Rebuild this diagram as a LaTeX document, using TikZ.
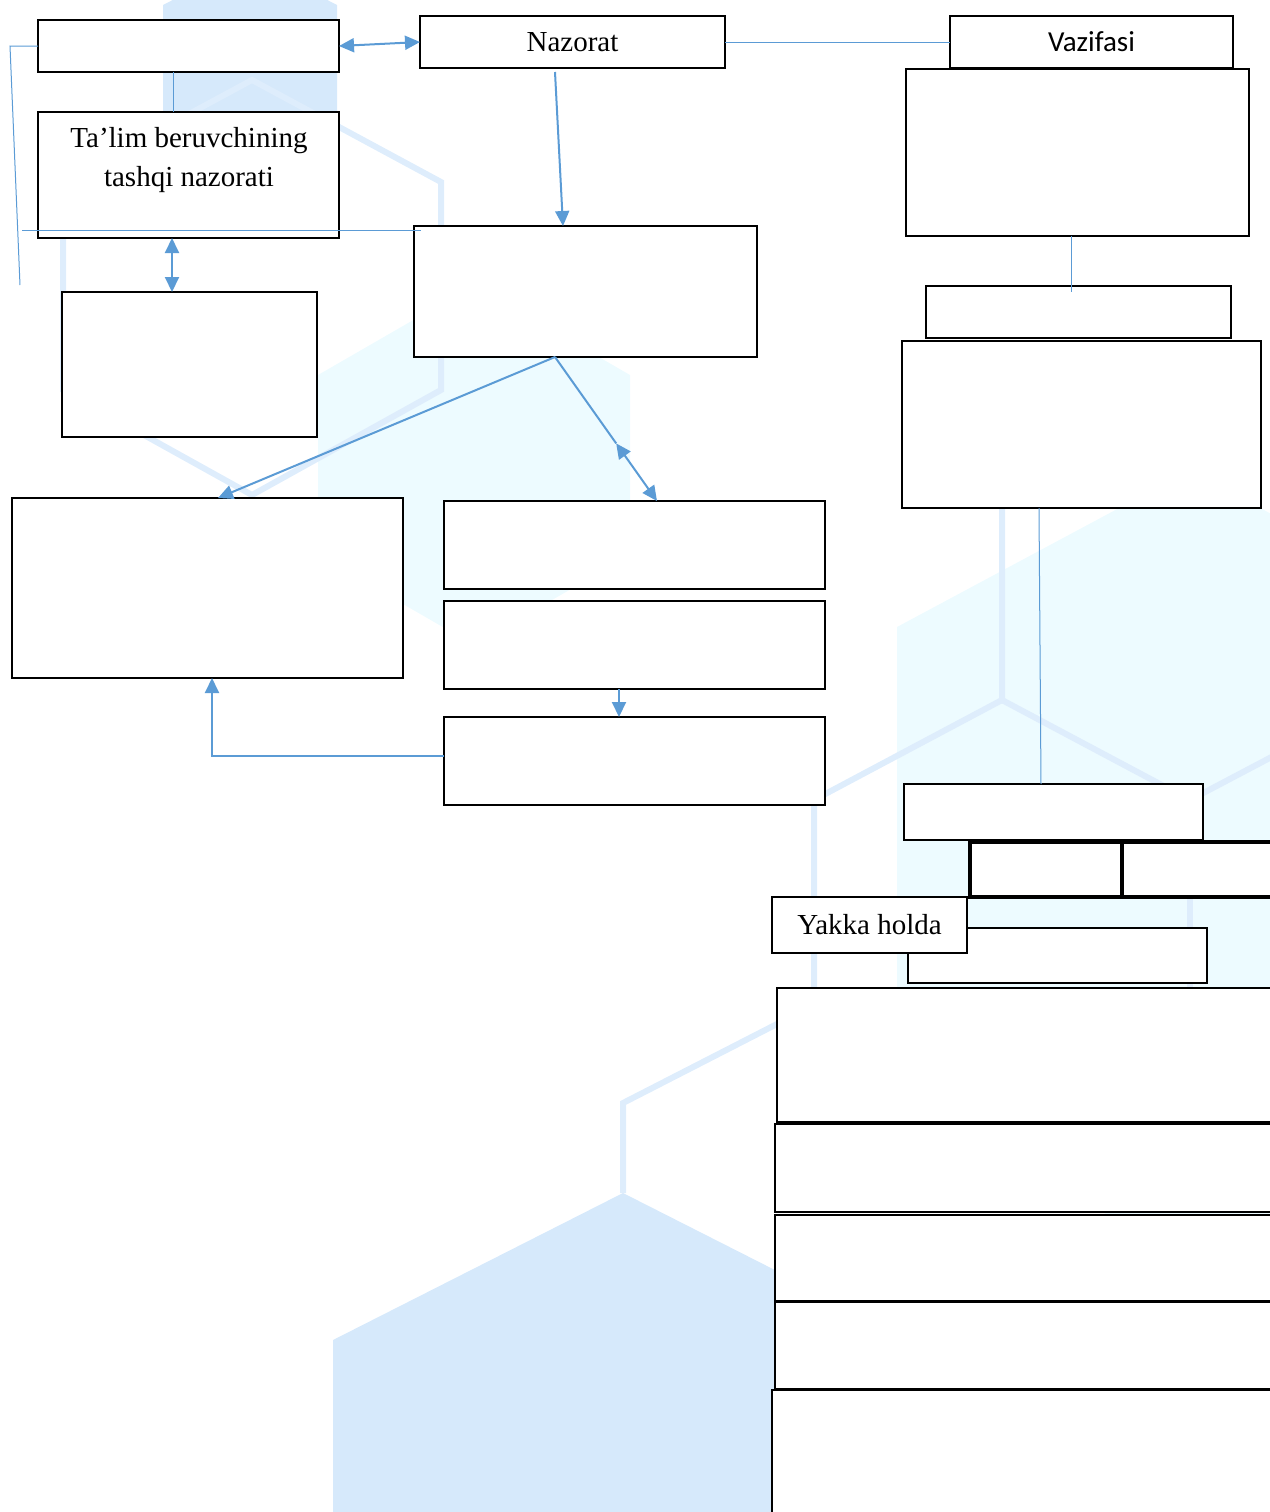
\documentclass[tikz,border=0pt]{standalone}
\usepackage{fontspec}
\setmainfont{Liberation Serif}
\newfontfamily\calfont{Carlito}
\usetikzlibrary{arrows.meta,calc}
\definecolor{linkblue}{RGB}{91,155,213}
\definecolor{hexfill}{RGB}{214,233,251}
\definecolor{hexcyan}{RGB}{237,251,255}
\definecolor{hexline}{RGB}{222,237,252}

\begin{document}
\begin{tikzpicture}[x=0.5pt,y=-0.5pt,
  blk/.style={draw=black, line width=1.25pt, fill=white, anchor=north west, inner sep=0pt, outer sep=0pt, font=\fontsize{14.5}{19.5}\selectfont},
  lbl/.style={inner sep=0pt, align=center, font=\fontsize{14.5}{19.5}\selectfont},
  link/.style={draw=linkblue, line width=1pt, >={Triangle[length=7.5pt,width=7pt]}},
  thinlink/.style={draw=linkblue, line width=0.5pt},
  hexedge/.style={draw=hexline, line width=3pt, line join=miter}]

\useasboundingbox (0,0) rectangle (1270,1512);
\begin{scope}
\clip (0,0) rectangle (1270,1512);

%Background: hexagons
\fill[hexfill] (250,-40) -- (337,5) -- (337,170) -- (250,215) -- (163,170) -- (163,5) -- cycle ;
\fill[hexcyan] (474,285) -- (630,375) -- (630,555) -- (474,645) -- (318,555) -- (318,375) -- cycle ;
\fill[hexcyan] (1190,470) -- (1480,627) -- (1480,1100) -- (1190,1260) -- (897,1100) -- (897,627) -- cycle ;
\fill[hexfill] (623,1193) -- (913,1340) -- (913,1600) -- (333,1600) -- (333,1340) -- cycle ;
\draw[hexedge] (252,80) -- (441,182) -- (441,390) -- (252,495) -- (63,390) -- (63,182) -- cycle ;
\draw[hexedge] (1002,480) -- (1002,700) -- (814,800) -- (814,1005) -- (623,1103) -- (623,1193) ;
\draw[hexedge] (1002,700) -- (1190,800) -- (1300,742) ;
\draw[hexedge] (1190,800) -- (1190,1010) ;

%Shape: Rectangle
\node[blk, minimum width=150.5pt, minimum height=26pt] (tl) at (38,20) {};
%Shape: Rectangle
\node[blk, minimum width=152.5pt, minimum height=26pt] (naz) at (420,16) {Nazorat};
%Shape: Rectangle
\node[blk, minimum width=141.5pt, minimum height=26pt, font=\fontsize{14.5}{19.5}\calfont] (vaz) at (950,16) {Vazifasi};
%Shape: Rectangle
\node[blk, minimum width=171.5pt, minimum height=83.5pt] (vazbig) at (906,69) {};
%Shape: Rectangle
\node[blk, minimum width=150.5pt, minimum height=63pt] (talim) at (38,112) {};
%Shape: Rectangle
\node[blk, minimum width=171.5pt, minimum height=65.5pt] (ctr) at (414,226) {};
%Shape: Rectangle
\node[blk, minimum width=127.5pt, minimum height=72.5pt] (lmid) at (62,292) {};
%Shape: Rectangle
\node[blk, minimum width=152.5pt, minimum height=26pt] (rsm) at (926,286) {};
%Shape: Rectangle
\node[blk, minimum width=179.5pt, minimum height=83.5pt] (rbig) at (902,341) {};
%Shape: Rectangle
\node[blk, minimum width=195.5pt, minimum height=90pt] (lbig) at (12,498) {};
%Shape: Rectangle
\node[blk, minimum width=190.5pt, minimum height=44pt] (ca) at (444,501) {};
%Shape: Rectangle
\node[blk, minimum width=190.5pt, minimum height=44pt] (cb) at (444,601) {};
%Shape: Rectangle
\node[blk, minimum width=190.5pt, minimum height=44pt] (cc) at (444,717) {};
%Shape: Rectangle
\node[blk, minimum width=149.5pt, minimum height=28pt] (rc) at (904,784) {};
%Shape: Rectangle
\node[blk, line width=2pt, minimum width=76pt, minimum height=27.5pt] (rda) at (970,842) {};
%Shape: Rectangle
\node[blk, line width=2pt, minimum width=104pt, minimum height=27.5pt] (rdb) at (1122,842) {};
%Shape: Rectangle
\node[blk, minimum width=149.5pt, minimum height=27.5pt] (re) at (908,928) {};
%Shape: Rectangle
\node[blk, minimum width=97.5pt, minimum height=28pt] (yak) at (772,897) {Yakka holda};
%Shape: Rectangle
\node[blk, minimum width=276.5pt, minimum height=67pt] (rf) at (777,988) {};
%Shape: Rectangle
\node[blk, minimum width=277.5pt, minimum height=44pt] (rg) at (775,1124) {};
%Shape: Rectangle
\node[blk, minimum width=277.5pt, minimum height=43pt] (rh) at (775,1215) {};
%Shape: Rectangle
\node[blk, minimum width=277.5pt, minimum height=43.5pt] (ri) at (775,1302) {};
%Shape: Rectangle
\node[blk, minimum width=279pt, minimum height=85pt] (rj) at (772,1390) {};
\end{scope}

% Text Node
\node[lbl] (talimtxt) at (189,160) {Ta’lim beruvchining\\tashqi nazorati};

%Straight Lines
\coordinate (brk) at (20,285);
\coordinate (hl) at (22,230);
\coordinate (cbot) at ($(ctr.south west)+(141,0)$);
\coordinate (catop) at ($(ca.north west)+(213,0)$);
\coordinate (mid) at ($(cbot)!0.6!(catop)$);

\draw[link, <->] (tl.east) -- (naz.west);
\draw[thinlink] ($(tl.south west)+(135,0)$) -- ($(talim.north west)+(135,0)$);
\draw[thinlink] (tl.west) -- ++(-28,0) -- (brk);
\draw[thinlink] (hl) -- ($(ctr.north west)+(7,4)$);
\draw[link, <->] ($(talim.south west)+(134,0)$) -- ($(lmid.north west)+(110,0)$);
\draw[link, ->] ($(naz.south west)+(135,4)$) -- ($(ctr.north west)+(149,0)$);
\draw[thinlink] (naz.east) -- (vaz.west);
\draw[thinlink] ($(vazbig.south west)+(165,0)$) -- ($(rsm.north west)+(145,6)$);
\draw[link, ->] (cbot) -- ($(lbig.north west)+(206,0)$);
\draw[link] (cbot) -- (mid);
\draw[link, <->] (mid) -- (catop);
\draw[link, ->] ($(cb.south west)+(175,0)$) -- ($(cc.north west)+(175,0)$);
\draw[link, ->] ($(cc.north west)+(0,39)$) -| ($(lbig.south west)+(200,0)$);
\draw[thinlink] ($(rbig.south west)+(137,0)$) -- ($(rc.north west)+(137,0)$);
\end{tikzpicture}
\end{document}
